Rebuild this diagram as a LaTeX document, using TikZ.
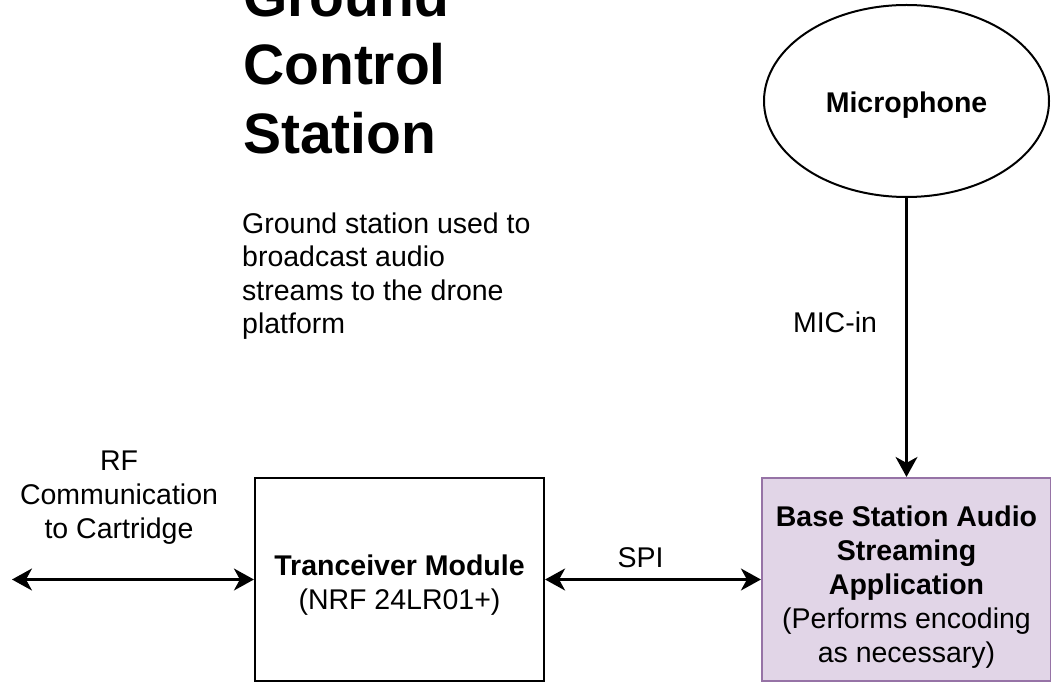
\documentclass[tikz,border=0pt]{standalone}
\usepackage{fontspec}
\setmainfont{Liberation Sans}
\usetikzlibrary{arrows.meta,shapes.geometric}
\definecolor{appfill}{HTML}{E1D5E7}
\definecolor{appdraw}{HTML}{9673A6}
\begin{document}
\begin{tikzpicture}[x=1pt,y=-1pt,>={Stealth[length=20pt,width=22pt,inset=6pt]},
        txt/.style={font=\fontsize{28.5}{34}\selectfont,inner sep=0pt,align=center},
        block/.style={draw,line width=2.2pt,minimum width=289pt,minimum height=203pt,inner sep=0pt},
        link/.style={line width=2.2pt}]
        \useasboundingbox (0,0) rectangle (1051,684);
        % title and description
        \node[anchor=north west,inner sep=0pt,align=left,font=\fontsize{57}{68}\selectfont\bfseries] (title) at (243,-24.5) {Ground\\Control\\Station};
        \node[txt,anchor=north west,align=left,font=\fontsize{28.5}{33.5}\selectfont] (desc) at (242,212.5) {Ground station used to\\broadcast audio\\streams to the drone\\platform};
        % blocks
        \node[block] (trx) at (399.5,579.5) {};
        \node[block,draw=appdraw,fill=appfill] (app) at (906.5,579.5) {};
        \node[ellipse,draw,line width=2pt,minimum width=285pt,minimum height=192pt,inner sep=0pt] (mic) at (906.5,101) {};
        \node[txt] (trxtext) at ([yshift=-6pt]trx.center) {\textbf{Tranceiver Module}\\(NRF 24LR01+)};
        \node[txt] (apptext) at ([yshift=-8pt]app.center) {\textbf{Base Station Audio}\\\textbf{Streaming}\\\textbf{Application}\\(Performs encoding\\as necessary)};
        \node[txt,font=\fontsize{28.5}{34}\selectfont\bfseries] (mictext) at ([yshift=-4pt]mic.center) {Microphone};
        % connectors
        \coordinate (rfend) at (12,579.5);
        \draw[link,<->] (rfend) -- (trx.west);
        \draw[link,<->] (trx.east) -- (app.west);
        \draw[link,->] (mic.south) -- (app.north);
        \node[txt] (rflabel) at (119,498) {RF\\Communication\\to Cartridge};
        \node[txt] (spilabel) at (640.5,558) {SPI};
        \node[txt] (miclabel) at (835,322) {MIC-in};
\end{tikzpicture}
\end{document}
